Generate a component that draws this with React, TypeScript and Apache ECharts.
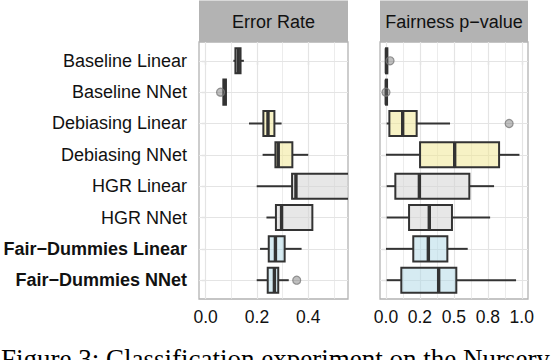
import React, { useEffect, useRef } from "react";
import * as echarts from "echarts";

const categories = [
  "Baseline Linear",
  "Baseline NNet",
  "Debiasing Linear",
  "Debiasing NNet",
  "HGR Linear",
  "HGR NNet",
  "Fair−Dummies Linear",
  "Fair−Dummies NNet",
];
const boldCategories = [false, false, false, false, false, false, true, true];

// [min, q1, median, q3, max]
const errorRateBoxes = [
  [0.108, 0.116, 0.127, 0.136, 0.149],
  [0.068, 0.069, 0.074, 0.079, 0.081],
  [0.169, 0.225, 0.243, 0.268, 0.296],
  [0.222, 0.272, 0.283, 0.338, 0.4],
  [0.199, 0.337, 0.352, 0.62, 0.7],
  [0.237, 0.274, 0.296, 0.416, 0.416],
  [0.212, 0.246, 0.272, 0.308, 0.374],
  [0.199, 0.242, 0.268, 0.283, 0.324],
];
const errorRateOutliers = [
  [0.058, 1],
  [0.355, 7],
];

const pValueBoxes = [
  [0.0, 0.0, 0.003, 0.01, 0.015],
  [0.0, 0.0, 0.002, 0.008, 0.012],
  [0.005, 0.025, 0.123, 0.226, 0.472],
  [0.0, 0.251, 0.506, 0.833, 0.983],
  [0.005, 0.069, 0.246, 0.614, 0.796],
  [0.005, 0.17, 0.319, 0.486, 0.767],
  [0.0, 0.201, 0.312, 0.452, 0.602],
  [0.005, 0.113, 0.388, 0.518, 0.958],
];
const pValueOutliers = [
  [0.03, 0],
  [0.0, 1],
  [0.907, 2],
];

const boxFills = [
  "rgba(255,255,255,0.5)",
  "rgba(255,255,255,0.5)",
  "rgba(240,230,140,0.5)",
  "rgba(240,230,140,0.5)",
  "rgba(211,211,211,0.55)",
  "rgba(211,211,211,0.55)",
  "rgba(173,216,230,0.5)",
  "rgba(173,216,230,0.5)",
];

const errorTicks = [0, 0.2, 0.4];
const errorTickLabels = ["0.0", "0.2", "0.4"];
const errorMinor = [0.1, 0.3, 0.5];
const pValueTicks = [0, 0.25, 0.5, 0.75, 1];
const pValueTickLabels = ["0.0", "0.2", "0.5", "0.8", "1.0"];
const pValueMinor = [0.125, 0.375, 0.625, 0.875];

const panelTitles = ["Error Rate", "Fairness p−value"];
const caption = "Figure 3: Classification experiment on the Nursery";

const FONT = "'Liberation Sans', Arial, sans-serif";
const SERIF = "'Liberation Serif', 'Times New Roman', serif";
const GRID_COLOR = "#e4e4e4";
const BORDER = "#b3b3b3";
const DARK = "#333333";
const FS = 18;
const TICK_FS = 17.5;

const renderBox = (params: any, api: any) => {
  const cat = api.value(0);
  const pMin = api.coord([api.value(1), cat]);
  const pQ1 = api.coord([api.value(2), cat]);
  const pMed = api.coord([api.value(3), cat]);
  const pQ3 = api.coord([api.value(4), cat]);
  const pMax = api.coord([api.value(5), cat]);
  const half = Math.abs(api.size([0, 1])[1]) * 0.4;
  const y = pMed[1];
  return {
    type: "group",
    children: [
      {
        type: "line",
        shape: { x1: pMin[0], y1: y, x2: pQ1[0], y2: y },
        style: { stroke: DARK, lineWidth: 2 },
      },
      {
        type: "line",
        shape: { x1: pQ3[0], y1: y, x2: pMax[0], y2: y },
        style: { stroke: DARK, lineWidth: 2 },
      },
      {
        type: "rect",
        shape: { x: pQ1[0], y: y - half, width: pQ3[0] - pQ1[0], height: 2 * half },
        style: { fill: boxFills[cat], stroke: DARK, lineWidth: 2 },
      },
      {
        type: "line",
        shape: { x1: pMed[0], y1: y - half, x2: pMed[0], y2: y + half },
        style: { stroke: DARK, lineWidth: 3.4 },
      },
    ],
  };
};

const catIdx = categories.map((_, i) => i);

export default function App() {
  const ref = useRef<HTMLDivElement>(null);
  useEffect(() => {
    if (!ref.current) return;
    const chart = echarts.init(ref.current, null, { renderer: "svg" });

    const grids = [
      { left: 199, top: 42, width: 149, height: 257 },
      { left: 380, top: 42, width: 148, height: 257 },
    ];
    const xRanges = [
      [-0.026, 0.555],
      [-0.044, 1.046],
    ];
    const ticks = [errorTicks, pValueTicks];
    const tickLabels = [errorTickLabels, pValueTickLabels];
    const minors = [errorMinor, pValueMinor];
    const boxes = [errorRateBoxes, pValueBoxes];
    const outliers = [errorRateOutliers, pValueOutliers];

    const series: any[] = [];
    [0, 1].forEach((p) => {
      const lines: any[] = [];
      ticks[p].forEach((v) => lines.push({ xAxis: v, lineStyle: { width: 1.2 } }));
      minors[p].forEach((v) => lines.push({ xAxis: v, lineStyle: { width: 0.7 } }));
      catIdx.forEach((c) => lines.push({ yAxis: c, lineStyle: { width: 1.2 } }));
      series.push({
        type: "scatter",
        xAxisIndex: p,
        yAxisIndex: p,
        data: [],
        z: 1,
        silent: true,
        markLine: {
          z: 1,
          silent: true,
          symbol: ["none", "none"],
          label: { show: false },
          lineStyle: { color: GRID_COLOR, type: "solid" },
          emphasis: { disabled: true },
          data: lines,
        },
      });
      series.push({
        type: "custom",
        xAxisIndex: p,
        yAxisIndex: p,
        clip: true,
        z: 3,
        renderItem: renderBox,
        encode: { x: [1, 2, 3, 4, 5], y: 0 },
        data: boxes[p].map((b, i) => [i, ...b]),
      });
      series.push({
        type: "scatter",
        xAxisIndex: p,
        yAxisIndex: p,
        z: 4,
        symbol: "circle",
        symbolSize: 8,
        itemStyle: { color: "rgba(110,110,110,0.55)", borderColor: "#7a7a7a", borderWidth: 1.2 },
        data: outliers[p],
      });
    });

    const option: any = {
      animation: false,
      textStyle: { fontFamily: FONT },
      grid: grids.map((g) => ({
        ...g,
        show: true,
        backgroundColor: "#ffffff",
        borderColor: BORDER,
        borderWidth: 1.3,
        containLabel: false,
      })),
      xAxis: [0, 1].map((p) => ({
        type: "value",
        gridIndex: p,
        min: xRanges[p][0],
        max: xRanges[p][1],
        axisLine: { show: false },
        splitLine: { show: false },
        axisTick: {
          show: true,
          customValues: ticks[p],
          length: 4,
          lineStyle: { color: BORDER, width: 1.2 },
        },
        axisLabel: {
          show: true,
          customValues: ticks[p],
          margin: 9,
          fontSize: TICK_FS,
          fontFamily: FONT,
          color: "#111",
          formatter: (v: number) => {
            const i = ticks[p].findIndex((t) => Math.abs(t - v) < 1e-9);
            return i >= 0 ? tickLabels[p][i] : "";
          },
        },
      })),
      yAxis: [0, 1].map((p) => ({
        type: "value",
        gridIndex: p,
        inverse: true,
        min: -0.6,
        max: 7.6,
        axisLine: { show: false },
        splitLine: { show: false },
        axisTick: {
          show: true,
          customValues: catIdx,
          length: 4,
          lineStyle: { color: BORDER, width: 1.2 },
        },
        axisLabel: {
          show: p === 0,
          customValues: catIdx,
          margin: 12,
          fontSize: FS,
          fontFamily: FONT,
          color: "#111",
          formatter: (v: number) => {
            const i = Math.round(v);
            const name = categories[i] ?? "";
            return boldCategories[i] ? `{b|${name}}` : `{n|${name}}`;
          },
          rich: {
            b: { fontWeight: "bold", fontSize: FS, fontFamily: FONT, color: "#111" },
            n: { fontSize: FS, fontFamily: FONT, color: "#111" },
          },
        },
      })),
      graphic: [
        ...grids.map((g, p) => ({
          type: "group",
          children: [
            {
              type: "rect",
              shape: { x: g.left, y: 0.5, width: g.width, height: g.top - 0.5 },
              style: { fill: BORDER },
            },
            {
              type: "text",
              x: g.left + g.width / 2,
              y: g.top / 2 + 0.5,
              style: {
                text: panelTitles[p],
                fill: "#111",
                fontSize: FS,
                fontFamily: FONT,
                align: "center",
                verticalAlign: "middle",
              },
            },
          ],
        })),
        {
          type: "text",
          x: 1,
          y: 359,
          style: {
            text: caption,
            fill: "#000",
            fontSize: 27,
            fontFamily: SERIF,
            align: "left",
            verticalAlign: "middle",
          },
        },
      ],
      series,
    };
    chart.setOption(option);
    return () => chart.dispose();
  }, []);
  return (
    <div
      ref={ref}
      style={{ position: "fixed", left: 0, top: 0, width: 552, height: 360, background: "#fff" }}
    />
  );
}
